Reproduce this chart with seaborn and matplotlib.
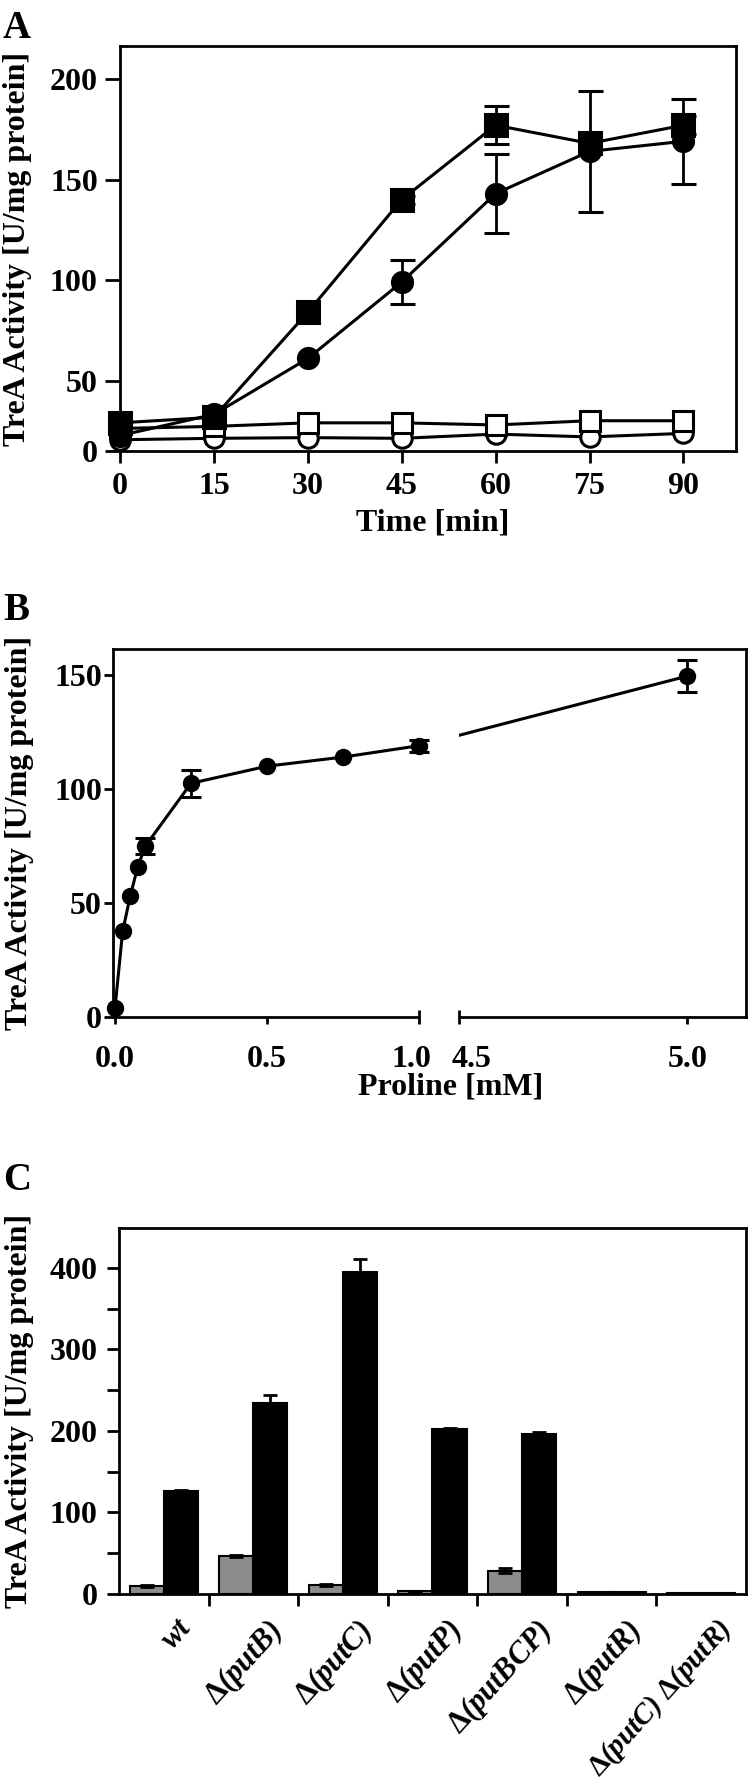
import numpy as np
import pandas as pd
import matplotlib
matplotlib.use("Agg")
import matplotlib.pyplot as plt
import matplotlib.transforms as mtrans
from matplotlib.patches import Rectangle
from matplotlib.ticker import NullLocator
import seaborn as sns

# =========================================================
# Data
# =========================================================
# ---- (A) TreA activity over time ----
time_min = [0, 15, 30, 45, 60, 75, 90]
filled_square = [20, 24, 84, 140, 177, 168, 177]
filled_square_err = [0, 0, 0, 2, 9.5, 0, 4.5]
filled_circle = [11, 26, 61, 99, 143, 164, 169]
filled_circle_err = [0, 0, 0, 11, 19.5, 30, 21]
open_square = [16, 17.5, 20, 20, 18.5, 21.5, 21.5]
open_circle = [8, 9, 9.5, 9, 12, 10, 12.5]
time_ticks = [0, 15, 30, 45, 60, 75, 90]

# ---- (B) proline dose response ----
proline_mM = [0, 0.025, 0.05, 0.075, 0.1, 0.25, 0.5, 0.75, 1.0, 5.0]
proline_activity = [4, 37.5, 53, 66, 75, 102.5, 110, 114, 119, 149.5]
proline_err = [0, 0, 0, 0, 3.5, 6, 0, 0, 2.7, 7]

# ---- (C) deletion mutants ----
strains = ["wt", r"$\Delta$(putB)", r"$\Delta$(putC)", r"$\Delta$(putP)",
           r"$\Delta$(putBCP)", r"$\Delta$(putR)", r"$\Delta$(putC) $\Delta$(putR)"]
no_proline = [10, 47, 11, 3.5, 28.5, 2, 1.5]
no_proline_err = [1, 1, 1, 0.5, 3, 0.3, 0.3]
with_proline = [126, 234, 395, 203, 196, 2, 1.5]
with_proline_err = [1.5, 10, 16, 1, 2.5, 0.3, 0.3]

# =========================================================
# Style
# =========================================================
sns.set_theme(style="ticks", rc={
    "axes.edgecolor": "black", "axes.linewidth": 2,
    "xtick.color": "black", "ytick.color": "black",
    "text.color": "black", "axes.labelcolor": "black",
    "xtick.major.width": 2, "ytick.major.width": 2,
    "xtick.minor.width": 2, "ytick.minor.width": 2,
})
plt.rcParams["font.family"] = ["Liberation Serif", "DejaVu Serif"]
plt.rcParams["font.weight"] = "bold"
plt.rcParams["axes.labelweight"] = "bold"
plt.rcParams["font.size"] = 23
plt.rcParams["mathtext.fontset"] = "custom"
plt.rcParams["mathtext.rm"] = "Liberation Serif:bold"
plt.rcParams["mathtext.it"] = "Liberation Serif:bold:italic"

FS = 23
YLABEL = "TreA Activity [U/mg protein]"

fig = plt.figure(figsize=(7.5, 17.85), dpi=100)


def frame(x0, x1, y0, y1):
    """axes rectangle from pixel edges of the 750x1785 canvas"""
    return [x0 / 750, 1 - y1 / 1785, (x1 - x0) / 750, (y1 - y0) / 1785]


def nz(x, y, e):
    x, y, e = np.asarray(x, float), np.asarray(y, float), np.asarray(e, float)
    m = e > 0
    return x[m], y[m], e[m]


def px_shift(dx, dy=0):
    return mtrans.ScaledTranslation(dx / 100, dy / 100, fig.dpi_scale_trans)


# =========================================================
# Panel A
# =========================================================
axA = fig.add_axes(frame(120, 736, 46, 451))


def fwd_a(y):
    y = np.asarray(y, float)
    return np.where(y < 50, 15 + 0.7 * y, y)


def inv_a(t):
    t = np.asarray(t, float)
    return np.where(t < 50, (t - 15) / 0.7, t)


axA.set_yscale("function", functions=(fwd_a, inv_a))

series_a = [
    (open_circle, None, "o", "white", 14, 3),
    (open_square, None, "s", "white", 14, 3.2),
    (filled_circle, filled_circle_err, "o", "black", 14.5, 3.4),
    (filled_square, filled_square_err, "s", "black", 15.5, 3.6),
]
for vals, errs, mk, fc, ms, z in series_a:
    sns.lineplot(x=time_min, y=vals, ax=axA, color="black", linewidth=2.2,
                 marker=mk, markersize=ms, markerfacecolor=fc,
                 markeredgecolor="black", markeredgewidth=2.2,
                 clip_on=False, zorder=z)
    if errs is not None:
        ex, ey, ee = nz(time_min, vals, errs)
        axA.errorbar(ex, ey, yerr=ee, fmt="none", ecolor="black",
                     elinewidth=2, capsize=9, capthick=2.2, zorder=z - 0.05)

axA.set_xlim(0, 98.4)
axA.set_ylim(0, 216.4)
axA.set_xticks(time_ticks)
axA.set_yticks([0, 50, 100, 150, 200])
axA.yaxis.set_minor_locator(NullLocator())
axA.tick_params(axis="x", length=8.6, width=2, pad=6.5, labelsize=FS)
axA.tick_params(axis="y", length=11, width=2, pad=5, labelsize=FS)
axA.set_xlabel("Time [min]", fontsize=FS)
axA.xaxis.set_label_coords(0.508, -0.143)
axA.set_ylabel(YLABEL, fontsize=FS)
axA.yaxis.label.set_va("center")
axA.yaxis.set_label_coords(-0.1656, 0.5)

# =========================================================
# Panel B (broken x axis)
# =========================================================
axB = fig.add_axes(frame(113, 746, 649, 1017))
GAP = 0.1316
RIGHT_K = 1.5


def fwd_b(x):
    x = np.asarray(x, float)
    return np.where(x <= 1, x,
                    np.where(x >= 4.5, 1 + GAP + (x - 4.5) * RIGHT_K,
                             1 + (x - 1) * GAP / 3.5))


def inv_b(t):
    t = np.asarray(t, float)
    return np.where(t <= 1, t,
                    np.where(t >= 1 + GAP, 4.5 + (t - 1 - GAP) / RIGHT_K,
                             1 + (t - 1) * 3.5 / GAP))


axB.set_xscale("function", functions=(fwd_b, inv_b))
sns.lineplot(x=proline_mM, y=proline_activity, ax=axB, color="black",
             linewidth=2.2, zorder=2)
ex, ey, ee = nz(proline_mM, proline_activity, proline_err)
axB.errorbar(ex, ey, yerr=ee, fmt="none", ecolor="black", elinewidth=2,
             capsize=7, capthick=2.2, zorder=4)
axB.plot(proline_mM, proline_activity, linestyle="none", marker="o",
         markersize=11.5, color="black", clip_on=False, zorder=5)

# white mask over the axis break
gap_mask = Rectangle((1.0, -0.03), 3.5, 1.02,
                     transform=mtrans.blended_transform_factory(axB.transData, axB.transAxes),
                     facecolor="white", edgecolor="none", zorder=2.6, clip_on=False)
axB.add_patch(gap_mask)
axB.xaxis.set_zorder(3)

axB.set_xlim(-0.0066, 5.129)
axB.set_ylim(0, 161.4)
axB.set_xticks([0, 0.5, 5.0], ["0.0", "0.5", "5.0"])
axB.set_xticks([1.0, 4.5], ["1.0", "4.5"], minor=True)
axB.set_yticks([0, 50, 100, 150])
axB.yaxis.set_minor_locator(NullLocator())
axB.tick_params(axis="x", which="major", direction="out", length=5, width=2,
                pad=15, labelsize=FS)
axB.tick_params(axis="x", which="minor", direction="inout", length=10, width=2,
                pad=15, labelsize=FS)
axB.tick_params(axis="y", length=6.5, width=2, pad=1.5, labelsize=FS)
# nudge the two labels either side of the break apart
for lab, dx in zip(axB.get_xticklabels(minor=True), [-8, 12]):
    lab.set_transform(lab.get_transform() + px_shift(dx))
axB.set_xlabel("Proline [mM]", fontsize=FS)
axB.xaxis.set_label_coords(0.534, -0.151)
axB.set_ylabel(YLABEL, fontsize=FS)
axB.yaxis.label.set_va("center")
axB.yaxis.set_label_coords(-0.147, 0.5)

# =========================================================
# Panel C
# =========================================================
axC = fig.add_axes(frame(119, 746, 1228, 1594))
df_c = pd.DataFrame({
    "strain": strains * 2,
    "proline": ["-"] * len(strains) + ["+"] * len(strains),
    "activity": no_proline + with_proline,
})
sns.barplot(data=df_c, x="strain", y="activity", hue="proline",
            palette=["#8c8c8c", "black"], saturation=1, edgecolor="black",
            linewidth=1.5, width=0.76, errorbar=None, legend=False, ax=axC)

for cont, vals, errs in zip(axC.containers, [no_proline, with_proline],
                            [no_proline_err, with_proline_err]):
    xs = [b.get_x() + b.get_width() / 2 for b in cont]
    axC.errorbar(xs, vals, yerr=errs, fmt="none", ecolor="black",
                 elinewidth=2, capsize=5, capthick=2, zorder=3)

axC.set_xlim(-0.5, len(strains) - 0.5)
axC.set_ylim(0, 449)
axC.set_xticks(range(len(strains)))
axC.set_xticklabels(strains, rotation=48, ha="right", va="top",
                    rotation_mode="anchor", fontstyle="italic", fontsize=22)
axC.set_xticks(np.arange(0.5, len(strains) - 1, 1.0), minor=True)
axC.set_yticks([0, 100, 200, 300, 400])
axC.set_yticks([50, 150, 250, 350], minor=True)
axC.tick_params(axis="x", which="major", length=0, pad=14.5)
axC.tick_params(axis="x", which="minor", length=8.5, width=2, direction="out")
axC.tick_params(axis="y", which="both", length=8.5, width=2, pad=7, labelsize=FS)
c_labels = axC.get_xticklabels()
for i, lab in enumerate(c_labels):
    dx = 12 if i < len(c_labels) - 1 else 14
    lab.set_transform(lab.get_transform() + px_shift(dx))
c_labels[-1].set_fontsize(21)
axC.set_xlabel("")
axC.set_ylabel(YLABEL, fontsize=FS)
axC.yaxis.label.set_va("center")
axC.yaxis.set_label_coords(-0.158, 0.5)

for ax in (axA, axB, axC):
    for sp in ax.spines.values():
        sp.set_linewidth(2)
        sp.set_color("black")

# panel letters
fig.text(3 / 750, 1 - 10 / 1785, "A", fontsize=28, fontweight="bold", va="top")
fig.text(3 / 750, 1 - 592 / 1785, "B", fontsize=28, fontweight="bold", va="top")
fig.text(3 / 750, 1 - 1162 / 1785, "C", fontsize=28, fontweight="bold", va="top")

fig.savefig("out.png", dpi=100)
